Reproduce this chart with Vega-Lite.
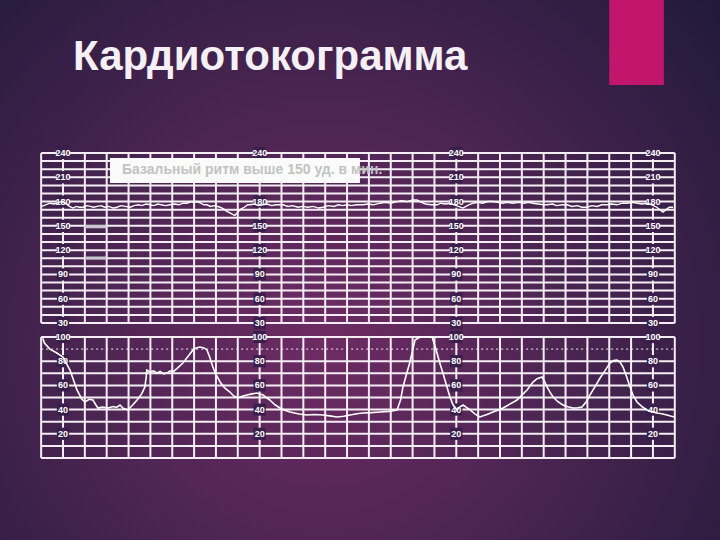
{
  "$schema": "https://vega.github.io/schema/vega-lite/v6.json",
  "width": 720,
  "height": 540,
  "autosize": {"type": "fit", "contains": "padding"},
  "padding": 0,
  "background": "#2a1d40",
  "config": {"view": {"stroke": null}, "font": "Liberation Sans"},
  "datasets": {
    "vgrid": [{"u":-1},{"u":0},{"u":1},{"u":2},{"u":3},{"u":4},{"u":5},{"u":6},{"u":7},{"u":8},{"u":9},{"u":10},{"u":11},{"u":12},{"u":13},{"u":14},{"u":15},{"u":16},{"u":17},{"u":18},{"u":19},{"u":20},{"u":21},{"u":22},{"u":23},{"u":24},{"u":25},{"u":26},{"u":27},{"u":28}],
    "fhrGrid": [{"bpm":30},{"bpm":40},{"bpm":50},{"bpm":60},{"bpm":70},{"bpm":80},{"bpm":90},{"bpm":100},{"bpm":110},{"bpm":120},{"bpm":130},{"bpm":140},{"bpm":150},{"bpm":160},{"bpm":170},{"bpm":180},{"bpm":190},{"bpm":200},{"bpm":210},{"bpm":220},{"bpm":230},{"bpm":240}],
    "ucGrid": [{"p":0},{"p":10},{"p":20},{"p":30},{"p":40},{"p":50},{"p":60},{"p":70},{"p":80},{"p":100}],
    "fhrLabels": [
      {"u":0,"bpm":240},{"u":0,"bpm":210},{"u":0,"bpm":180},{"u":0,"bpm":150},{"u":0,"bpm":120},{"u":0,"bpm":90},{"u":0,"bpm":60},{"u":0,"bpm":30},
      {"u":9,"bpm":240},{"u":9,"bpm":180},{"u":9,"bpm":150},{"u":9,"bpm":120},{"u":9,"bpm":90},{"u":9,"bpm":60},{"u":9,"bpm":30},
      {"u":18,"bpm":240},{"u":18,"bpm":210},{"u":18,"bpm":180},{"u":18,"bpm":150},{"u":18,"bpm":120},{"u":18,"bpm":90},{"u":18,"bpm":60},{"u":18,"bpm":30},
      {"u":27,"bpm":240},{"u":27,"bpm":210},{"u":27,"bpm":180},{"u":27,"bpm":150},{"u":27,"bpm":120},{"u":27,"bpm":90},{"u":27,"bpm":60},{"u":27,"bpm":30}
    ],
    "ucLabels": [
      {"u":0,"p":100},{"u":0,"p":80},{"u":0,"p":60},{"u":0,"p":40},{"u":0,"p":20},
      {"u":9,"p":100},{"u":9,"p":80},{"u":9,"p":60},{"u":9,"p":40},{"u":9,"p":20},
      {"u":18,"p":100},{"u":18,"p":80},{"u":18,"p":60},{"u":18,"p":40},{"u":18,"p":20},
      {"u":27,"p":100},{"u":27,"p":80},{"u":27,"p":60},{"u":27,"p":40},{"u":27,"p":20}
    ],
    "fhr": [
      {"u":-0.96,"bpm":174},{"u":-0.8,"bpm":176},{"u":-0.6,"bpm":178},{"u":-0.4,"bpm":177},{"u":-0.2,"bpm":179},{"u":0,"bpm":180},{"u":0.15,"bpm":177},{"u":0.3,"bpm":174},{"u":0.46,"bpm":172},{"u":0.6,"bpm":174},{"u":0.75,"bpm":173},{"u":0.92,"bpm":173},{"u":1.1,"bpm":175},{"u":1.25,"bpm":174},{"u":1.4,"bpm":173},{"u":1.56,"bpm":174},{"u":1.75,"bpm":175},{"u":1.9,"bpm":173},{"u":2.1,"bpm":174},{"u":2.3,"bpm":172},{"u":2.47,"bpm":173},{"u":2.65,"bpm":175},{"u":2.85,"bpm":174},{"u":3.07,"bpm":173},{"u":3.25,"bpm":175},{"u":3.45,"bpm":176},{"u":3.6,"bpm":175},{"u":3.8,"bpm":177},{"u":3.98,"bpm":176},{"u":4.15,"bpm":175},{"u":4.35,"bpm":177},{"u":4.5,"bpm":176},{"u":4.7,"bpm":175},{"u":4.9,"bpm":176},{"u":5.1,"bpm":177},{"u":5.3,"bpm":176},{"u":5.5,"bpm":178},{"u":5.68,"bpm":178},{"u":5.85,"bpm":180},{"u":6.0,"bpm":179},{"u":6.13,"bpm":180},{"u":6.3,"bpm":178},{"u":6.45,"bpm":176},{"u":6.59,"bpm":176},{"u":6.75,"bpm":174},{"u":6.95,"bpm":175},{"u":7.19,"bpm":173},{"u":7.35,"bpm":171},{"u":7.5,"bpm":168},{"u":7.64,"bpm":166},{"u":7.78,"bpm":164},{"u":7.87,"bpm":163},{"u":7.97,"bpm":166},{"u":8.1,"bpm":170},{"u":8.3,"bpm":173},{"u":8.45,"bpm":176},{"u":8.56,"bpm":176},{"u":8.75,"bpm":177},{"u":8.95,"bpm":175},{"u":9.15,"bpm":176},{"u":9.35,"bpm":177},{"u":9.55,"bpm":175},{"u":9.75,"bpm":176},{"u":10.07,"bpm":176},{"u":10.3,"bpm":174},{"u":10.5,"bpm":175},{"u":10.75,"bpm":173},{"u":10.98,"bpm":174},{"u":11.2,"bpm":173},{"u":11.45,"bpm":174},{"u":11.7,"bpm":172},{"u":11.9,"bpm":173},{"u":12.15,"bpm":175},{"u":12.4,"bpm":174},{"u":12.6,"bpm":176},{"u":12.8,"bpm":175},{"u":13.0,"bpm":176},{"u":13.2,"bpm":175},{"u":13.45,"bpm":176},{"u":13.73,"bpm":176},{"u":13.95,"bpm":177},{"u":14.2,"bpm":176},{"u":14.51,"bpm":178},{"u":14.75,"bpm":179},{"u":15.0,"bpm":178},{"u":15.29,"bpm":180},{"u":15.5,"bpm":181},{"u":15.75,"bpm":180},{"u":16.0,"bpm":182},{"u":16.2,"bpm":182},{"u":16.4,"bpm":179},{"u":16.6,"bpm":177},{"u":16.85,"bpm":176},{"u":17.12,"bpm":176},{"u":17.3,"bpm":178},{"u":17.5,"bpm":177},{"u":17.71,"bpm":178},{"u":17.9,"bpm":176},{"u":18.1,"bpm":174},{"u":18.31,"bpm":172},{"u":18.5,"bpm":175},{"u":18.76,"bpm":178},{"u":19.0,"bpm":179},{"u":19.2,"bpm":178},{"u":19.45,"bpm":180},{"u":19.68,"bpm":180},{"u":19.9,"bpm":179},{"u":20.1,"bpm":178},{"u":20.35,"bpm":179},{"u":20.6,"bpm":178},{"u":20.85,"bpm":179},{"u":21.1,"bpm":178},{"u":21.3,"bpm":179},{"u":21.51,"bpm":178},{"u":21.75,"bpm":177},{"u":22.0,"bpm":176},{"u":22.15,"bpm":176},{"u":22.4,"bpm":177},{"u":22.6,"bpm":175},{"u":22.85,"bpm":176},{"u":23.07,"bpm":176},{"u":23.3,"bpm":174},{"u":23.55,"bpm":175},{"u":23.75,"bpm":173},{"u":23.98,"bpm":173},{"u":24.2,"bpm":175},{"u":24.45,"bpm":174},{"u":24.65,"bpm":176},{"u":24.9,"bpm":176},{"u":25.1,"bpm":177},{"u":25.35,"bpm":176},{"u":25.6,"bpm":178},{"u":25.81,"bpm":178},{"u":26.05,"bpm":179},{"u":26.3,"bpm":178},{"u":26.5,"bpm":177},{"u":26.73,"bpm":178},{"u":26.95,"bpm":176},{"u":27.18,"bpm":173},{"u":27.35,"bpm":169},{"u":27.46,"bpm":167},{"u":27.6,"bpm":170},{"u":27.75,"bpm":173},{"u":27.92,"bpm":173}
    ],
    "uc": [
      {"u":-0.92,"p":99},{"u":-0.85,"p":95},{"u":-0.6,"p":90},{"u":-0.3,"p":87},{"u":0,"p":83.5},{"u":0.32,"p":72.7},{"u":0.64,"p":56.2},{"u":0.85,"p":49},{"u":1.0,"p":46.3},{"u":1.2,"p":48.5},{"u":1.37,"p":47.9},{"u":1.5,"p":44},{"u":1.6,"p":41.3},{"u":1.8,"p":42},{"u":2.06,"p":41.3},{"u":2.3,"p":42.5},{"u":2.45,"p":41.8},{"u":2.61,"p":43.8},{"u":2.75,"p":41},{"u":2.97,"p":39.7},{"u":3.2,"p":44},{"u":3.39,"p":47.9},{"u":3.6,"p":53},{"u":3.75,"p":58.7},{"u":3.8,"p":66},{"u":3.84,"p":72.7},{"u":4.0,"p":71},{"u":4.15,"p":72},{"u":4.3,"p":70.2},{"u":4.45,"p":71.5},{"u":4.6,"p":69.5},{"u":4.76,"p":70.2},{"u":4.9,"p":72},{"u":5.03,"p":71.1},{"u":5.25,"p":74.5},{"u":5.49,"p":78.5},{"u":5.7,"p":83.5},{"u":5.95,"p":89.3},{"u":6.1,"p":91},{"u":6.27,"p":91.7},{"u":6.45,"p":91},{"u":6.59,"p":89.3},{"u":6.72,"p":83},{"u":6.86,"p":75.2},{"u":7.0,"p":69},{"u":7.19,"p":62.8},{"u":7.4,"p":58},{"u":7.64,"p":54.5},{"u":7.8,"p":51.5},{"u":8.0,"p":49.6},{"u":8.2,"p":51},{"u":8.42,"p":52.1},{"u":8.65,"p":53},{"u":8.88,"p":53.7},{"u":9.15,"p":52.1},{"u":9.3,"p":50},{"u":9.47,"p":47.9},{"u":9.7,"p":44},{"u":9.93,"p":41.3},{"u":10.15,"p":39.5},{"u":10.39,"p":38.0},{"u":10.8,"p":36.3},{"u":11.17,"p":35.5},{"u":11.5,"p":36},{"u":11.9,"p":35.5},{"u":12.2,"p":34.8},{"u":12.54,"p":33.9},{"u":12.85,"p":34.5},{"u":13.14,"p":35.5},{"u":13.45,"p":36.5},{"u":13.73,"p":37.2},{"u":14.1,"p":37.5},{"u":14.51,"p":38.0},{"u":14.9,"p":38.5},{"u":15.29,"p":39.7},{"u":15.45,"p":48},{"u":15.56,"p":58.7},{"u":15.7,"p":68},{"u":15.88,"p":79.3},{"u":16.0,"p":89},{"u":16.11,"p":97.5},{"u":16.34,"p":100},{"u":16.6,"p":100},{"u":16.89,"p":100},{"u":17.0,"p":94},{"u":17.12,"p":86.8},{"u":17.25,"p":78},{"u":17.39,"p":70.2},{"u":17.55,"p":60},{"u":17.71,"p":50.4},{"u":17.85,"p":44},{"u":18.03,"p":39.7},{"u":18.15,"p":42},{"u":18.31,"p":43.8},{"u":18.45,"p":42},{"u":18.63,"p":39.7},{"u":18.85,"p":36.5},{"u":19.08,"p":33.9},{"u":19.4,"p":36},{"u":19.68,"p":38.0},{"u":19.9,"p":39.5},{"u":20.14,"p":41.3},{"u":20.45,"p":44.5},{"u":20.78,"p":47.9},{"u":21.0,"p":52},{"u":21.24,"p":56.2},{"u":21.51,"p":62.8},{"u":21.7,"p":65.5},{"u":21.92,"p":66.9},{"u":22.05,"p":63},{"u":22.15,"p":58.7},{"u":22.3,"p":54},{"u":22.43,"p":50.4},{"u":22.65,"p":46.5},{"u":22.88,"p":43.8},{"u":23.1,"p":42.3},{"u":23.34,"p":41.3},{"u":23.55,"p":41.5},{"u":23.75,"p":42.1},{"u":23.95,"p":46.5},{"u":24.12,"p":52.1},{"u":24.35,"p":59},{"u":24.58,"p":66.1},{"u":24.8,"p":72},{"u":25.03,"p":78.5},{"u":25.2,"p":80.5},{"u":25.35,"p":81.0},{"u":25.5,"p":79},{"u":25.63,"p":75.2},{"u":25.8,"p":67},{"u":25.95,"p":58.7},{"u":26.1,"p":51.5},{"u":26.27,"p":46.3},{"u":26.5,"p":42.5},{"u":26.73,"p":39.7},{"u":26.95,"p":38.3},{"u":27.18,"p":37.2},{"u":27.4,"p":36.5},{"u":27.64,"p":35.5},{"u":27.85,"p":34.5},{"u":28.0,"p":33.9}
    ]
  },
  "resolve": {"scale": {"y": "independent"}},
  "layer": [
    {
      "data": {"values": [{}]},
      "mark": {
        "type": "rect",
        "fill": {
          "gradient": "radial",
          "x1": 0.45, "y1": 0.6, "r1": 0,
          "x2": 0.45, "y2": 0.6, "r2": 0.72,
          "stops": [
            {"offset": 0, "color": "#6e2b64"},
            {"offset": 0.45, "color": "#4c2553"},
            {"offset": 1, "color": "#221a3a"}
          ]
        }
      },
      "encoding": {
        "x": {"value": 0}, "x2": {"value": "width"},
        "y": {"value": 0}, "y2": {"value": "height"}
      }
    },
    {
      "layer": [
        {
          "data": {"name": "fhrGrid"},
          "mark": {"type": "rule", "stroke": "#f4eef4", "strokeWidth": 2},
          "encoding": {
            "y": {"field": "bpm", "type": "quantitative", "scale": {"domain": [-238.06, 429.0], "nice": false, "zero": false}, "axis": null},
            "x": {"datum": -1, "type": "quantitative", "scale": {"domain": [-2.883, 30.069], "nice": false, "zero": false}, "axis": null},
            "x2": {"datum": 28}
          }
        },
        {
          "data": {"name": "vgrid"},
          "mark": {"type": "rule", "stroke": "#f4eef4", "strokeWidth": 2},
          "encoding": {
            "x": {"field": "u", "type": "quantitative", "scale": {"domain": [-2.883, 30.069], "nice": false, "zero": false}, "axis": null},
            "y": {"datum": 30, "type": "quantitative", "scale": {"domain": [-238.06, 429.0], "nice": false, "zero": false}, "axis": null},
            "y2": {"datum": 240}
          }
        },
        {
          "data": {"name": "fhrLabels"},
          "mark": {"type": "square", "size": 150, "filled": true, "color": "#3a1f4c", "opacity": 1},
          "encoding": {
            "x": {"field": "u", "type": "quantitative", "scale": {"domain": [-2.883, 30.069], "nice": false, "zero": false}, "axis": null},
            "y": {"field": "bpm", "type": "quantitative", "scale": {"domain": [-238.06, 429.0], "nice": false, "zero": false}, "axis": null}
          }
        },
        {
          "data": {"name": "fhrLabels"},
          "mark": {"type": "text", "fontSize": 9, "fontWeight": "bold", "color": "#ffffff", "align": "center", "baseline": "middle"},
          "encoding": {
            "x": {"field": "u", "type": "quantitative", "scale": {"domain": [-2.883, 30.069], "nice": false, "zero": false}, "axis": null},
            "y": {"field": "bpm", "type": "quantitative", "scale": {"domain": [-238.06, 429.0], "nice": false, "zero": false}, "axis": null},
            "text": {"field": "bpm", "type": "quantitative"}
          }
        },
        {
          "data": {"name": "fhr"},
          "mark": {"type": "line", "stroke": "#ffffff", "strokeWidth": 1.4},
          "encoding": {
            "x": {"field": "u", "type": "quantitative", "scale": {"domain": [-2.883, 30.069], "nice": false, "zero": false}, "axis": null},
            "y": {"field": "bpm", "type": "quantitative", "scale": {"domain": [-238.06, 429.0], "nice": false, "zero": false}, "axis": null}
          }
        },
        {
          "data": {"values": [{}]},
          "mark": {"type": "rect", "fill": "#c8c8cc"},
          "encoding": {
            "x": {"datum": 1, "type": "quantitative", "scale": {"domain": [-2.883, 30.069], "nice": false, "zero": false}, "axis": null},
            "x2": {"datum": 2},
            "y": {"datum": 151, "type": "quantitative", "scale": {"domain": [-238.06, 429.0], "nice": false, "zero": false}, "axis": null},
            "y2": {"datum": 147}
          }
        },
        {
          "data": {"values": [{}]},
          "mark": {"type": "rect", "fill": "#c8c8cc"},
          "encoding": {
            "x": {"datum": 1, "type": "quantitative", "scale": {"domain": [-2.883, 30.069], "nice": false, "zero": false}, "axis": null},
            "x2": {"datum": 2},
            "y": {"datum": 112, "type": "quantitative", "scale": {"domain": [-238.06, 429.0], "nice": false, "zero": false}, "axis": null},
            "y2": {"datum": 108.5}
          }
        },
        {
          "data": {"values": [{}]},
          "mark": {"type": "rect", "fill": "#fbfbfb"},
          "encoding": {
            "x": {"datum": 2.15, "type": "quantitative", "scale": {"domain": [-2.883, 30.069], "nice": false, "zero": false}, "axis": null},
            "x2": {"datum": 13.59},
            "y": {"datum": 233.8, "type": "quantitative", "scale": {"domain": [-238.06, 429.0], "nice": false, "zero": false}, "axis": null},
            "y2": {"datum": 202.9}
          }
        },
        {
          "data": {"values": [{}]},
          "mark": {"type": "text", "text": "Базальный ритм выше 150 уд. в мин.", "fontSize": 14, "fontWeight": "bold", "color": "#c2c2c2", "align": "left", "baseline": "middle"},
          "encoding": {
            "x": {"datum": 2.7, "type": "quantitative", "scale": {"domain": [-2.883, 30.069], "nice": false, "zero": false}, "axis": null},
            "y": {"datum": 219, "type": "quantitative", "scale": {"domain": [-238.06, 429.0], "nice": false, "zero": false}, "axis": null}
          }
        },
        {
          "data": {"values": [{}]},
          "mark": {"type": "text", "text": "Кардиотокограмма", "fontSize": 42, "fontWeight": "bold", "color": "#f4f0f6", "align": "left", "baseline": "alphabetic"},
          "encoding": {
            "x": {"datum": 0.458, "type": "quantitative", "scale": {"domain": [-2.883, 30.069], "nice": false, "zero": false}, "axis": null},
            "y": {"datum": 342.5, "type": "quantitative", "scale": {"domain": [-238.06, 429.0], "nice": false, "zero": false}, "axis": null}
          }
        },
        {
          "data": {"values": [{}]},
          "mark": {"type": "rect", "fill": "#c2166b"},
          "encoding": {
            "x": {"datum": 25.0, "type": "quantitative", "scale": {"domain": [-2.883, 30.069], "nice": false, "zero": false}, "axis": null},
            "x2": {"datum": 27.5},
            "y": {"datum": 429.0, "type": "quantitative", "scale": {"domain": [-238.06, 429.0], "nice": false, "zero": false}, "axis": null},
            "y2": {"datum": 324.0}
          }
        }
      ]
    },
    {
      "layer": [
        {
          "data": {"name": "ucGrid"},
          "mark": {"type": "rule", "stroke": "#f4eef4", "strokeWidth": 2},
          "encoding": {
            "y": {"field": "p", "type": "quantitative", "scale": {"domain": [-67.77, 378.5], "nice": false, "zero": false}, "axis": null},
            "x": {"datum": -1, "type": "quantitative", "scale": {"domain": [-2.883, 30.069], "nice": false, "zero": false}, "axis": null},
            "x2": {"datum": 28}
          }
        },
        {
          "data": {"values": [{}]},
          "mark": {"type": "rule", "stroke": "#f4eef4", "strokeWidth": 1, "strokeDash": [2, 3]},
          "encoding": {
            "y": {"datum": 90, "type": "quantitative", "scale": {"domain": [-67.77, 378.5], "nice": false, "zero": false}, "axis": null},
            "x": {"datum": -1, "type": "quantitative", "scale": {"domain": [-2.883, 30.069], "nice": false, "zero": false}, "axis": null},
            "x2": {"datum": 28}
          }
        },
        {
          "data": {"name": "vgrid"},
          "mark": {"type": "rule", "stroke": "#f4eef4", "strokeWidth": 2},
          "encoding": {
            "x": {"field": "u", "type": "quantitative", "scale": {"domain": [-2.883, 30.069], "nice": false, "zero": false}, "axis": null},
            "y": {"datum": 0, "type": "quantitative", "scale": {"domain": [-67.77, 378.5], "nice": false, "zero": false}, "axis": null},
            "y2": {"datum": 100}
          }
        },
        {
          "data": {"name": "ucLabels"},
          "mark": {"type": "square", "size": 150, "filled": true, "color": "#3a1f4c", "opacity": 1},
          "encoding": {
            "x": {"field": "u", "type": "quantitative", "scale": {"domain": [-2.883, 30.069], "nice": false, "zero": false}, "axis": null},
            "y": {"field": "p", "type": "quantitative", "scale": {"domain": [-67.77, 378.5], "nice": false, "zero": false}, "axis": null}
          }
        },
        {
          "data": {"name": "ucLabels"},
          "mark": {"type": "text", "fontSize": 9, "fontWeight": "bold", "color": "#ffffff", "align": "center", "baseline": "middle"},
          "encoding": {
            "x": {"field": "u", "type": "quantitative", "scale": {"domain": [-2.883, 30.069], "nice": false, "zero": false}, "axis": null},
            "y": {"field": "p", "type": "quantitative", "scale": {"domain": [-67.77, 378.5], "nice": false, "zero": false}, "axis": null},
            "text": {"field": "p", "type": "quantitative"}
          }
        },
        {
          "data": {"name": "uc"},
          "mark": {"type": "line", "stroke": "#ffffff", "strokeWidth": 1.6},
          "encoding": {
            "x": {"field": "u", "type": "quantitative", "scale": {"domain": [-2.883, 30.069], "nice": false, "zero": false}, "axis": null},
            "y": {"field": "p", "type": "quantitative", "scale": {"domain": [-67.77, 378.5], "nice": false, "zero": false}, "axis": null}
          }
        }
      ]
    }
  ]
}
